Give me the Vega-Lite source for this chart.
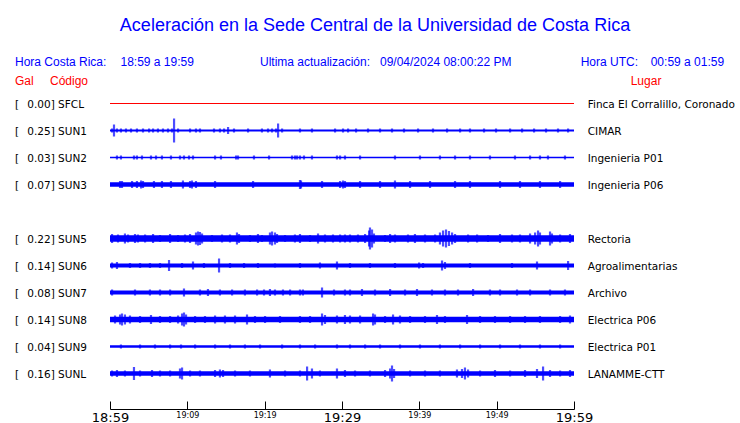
{
  "$schema": "https://vega.github.io/schema/vega-lite/v6.json",
  "width": 464,
  "height": 297,
  "autosize": "none",
  "padding": {"left": 110, "top": 90, "right": 166, "bottom": 36},
  "background": "white",
  "config": {"view": {"stroke": null}},
  "title": {
    "text": "Aceleración en la Sede Central de la Universidad de Costa Rica",
    "font": "Liberation Sans", "fontSize": 18, "fontWeight": "normal", "color": "#0000ff",
    "anchor": "middle", "frame": "group", "dx": 33, "offset": 21
  },
  "layer": [
    {
      "data": {
        "values": [
          {"st": "SFCL", "desde": "18:59:00", "hasta": "19:59:00", "grosor": 1},
          {"st": "SUN1", "desde": "18:59:00", "hasta": "19:59:00", "grosor": 2},
          {"st": "SUN2", "desde": "18:59:00", "hasta": "19:59:00", "grosor": 1.5},
          {"st": "SUN3", "desde": "18:59:00", "hasta": "19:59:00", "grosor": 4.5},
          {"st": "SUN5", "desde": "18:59:00", "hasta": "19:59:00", "grosor": 6.5},
          {"st": "SUN6", "desde": "18:59:00", "hasta": "19:59:00", "grosor": 4},
          {"st": "SUN7", "desde": "18:59:00", "hasta": "19:59:00", "grosor": 4},
          {"st": "SUN8", "desde": "18:59:00", "hasta": "19:59:00", "grosor": 5.5},
          {"st": "SUN9", "desde": "18:59:00", "hasta": "19:59:00", "grosor": 2.5},
          {"st": "SUNL", "desde": "18:59:00", "hasta": "19:59:00", "grosor": 4.5}
        ],
        "format": {"parse": {"desde": "date:'%H:%M:%S'", "hasta": "date:'%H:%M:%S'"}}
      },
      "mark": {"type": "bar", "cornerRadius": 0},
      "encoding": {
        "x": {
          "field": "desde", "type": "temporal",
          "scale": {"domain": [{"year": 1900, "month": 1, "date": 1, "hours": 18, "minutes": 59}, {"year": 1900, "month": 1, "date": 1, "hours": 19, "minutes": 59}]},
          "axis": {
            "title": null, "grid": false, "offset": 22,
            "domainColor": "black", "domainWidth": 1, "tickColor": "black", "tickWidth": 1, "tickSize": -8,
            "labelColor": "black", "labelFont": "DejaVu Sans", "labelPadding": 10, "labelBaseline": "top",
            "labelOverlap": false, "labelFlush": false, "labelBound": false,
            "labelFontSize": {"condition": {"test": "minutes(datum.value) % 30 == 29", "value": 13}, "value": 8},
            "labelExpr": "minutes(datum.value) % 10 == 9 ? timeFormat(datum.value, '%H:%M') : ''",
            "values": [
              {"year": 1900, "month": 1, "date": 1, "hours": 18, "minutes": 59},
              {"year": 1900, "month": 1, "date": 1, "hours": 19, "minutes": 4},
              {"year": 1900, "month": 1, "date": 1, "hours": 19, "minutes": 9},
              {"year": 1900, "month": 1, "date": 1, "hours": 19, "minutes": 14},
              {"year": 1900, "month": 1, "date": 1, "hours": 19, "minutes": 19},
              {"year": 1900, "month": 1, "date": 1, "hours": 19, "minutes": 24},
              {"year": 1900, "month": 1, "date": 1, "hours": 19, "minutes": 29},
              {"year": 1900, "month": 1, "date": 1, "hours": 19, "minutes": 34},
              {"year": 1900, "month": 1, "date": 1, "hours": 19, "minutes": 39},
              {"year": 1900, "month": 1, "date": 1, "hours": 19, "minutes": 44},
              {"year": 1900, "month": 1, "date": 1, "hours": 19, "minutes": 49},
              {"year": 1900, "month": 1, "date": 1, "hours": 19, "minutes": 54},
              {"year": 1900, "month": 1, "date": 1, "hours": 19, "minutes": 59}
            ]
          }
        },
        "x2": {"field": "hasta"},
        "y": {"field": "st", "type": "nominal", "scale": {"type": "point", "padding": 0.5, "domain": ["SFCL", "SUN1", "SUN2", "SUN3", "SUN4", "SUN5", "SUN6", "SUN7", "SUN8", "SUN9", "SUNL"]}, "axis": null},
        "size": {"field": "grosor", "type": "quantitative", "scale": {"type": "linear", "domain": [0, 24], "range": [0, 24]}, "legend": null},
        "color": {"condition": {"test": "datum.st === 'SFCL'", "value": "#ff0000"}, "value": "#0000ff"}
      }
    },
    {
      "data": {
        "values": [
          {"st": "SUN1", "t": "18:59:16", "amp": 4}, {"st": "SUN1", "t": "18:59:31", "amp": 12}, {"st": "SUN1", "t": "18:59:54", "amp": 4},
          {"st": "SUN1", "t": "19:00:25", "amp": 4}, {"st": "SUN1", "t": "19:01:04", "amp": 4}, {"st": "SUN1", "t": "19:01:43", "amp": 4},
          {"st": "SUN1", "t": "19:02:29", "amp": 4}, {"st": "SUN1", "t": "19:03:16", "amp": 4}, {"st": "SUN1", "t": "19:04:03", "amp": 4},
          {"st": "SUN1", "t": "19:04:34", "amp": 4}, {"st": "SUN1", "t": "19:05:12", "amp": 4}, {"st": "SUN1", "t": "19:05:51", "amp": 4},
          {"st": "SUN1", "t": "19:06:30", "amp": 4}, {"st": "SUN1", "t": "19:07:01", "amp": 4}, {"st": "SUN1", "t": "19:07:17", "amp": 24},
          {"st": "SUN1", "t": "19:07:48", "amp": 4}, {"st": "SUN1", "t": "19:09:21", "amp": 4}, {"st": "SUN1", "t": "19:10:07", "amp": 4},
          {"st": "SUN1", "t": "19:10:38", "amp": 4}, {"st": "SUN1", "t": "19:12:27", "amp": 4}, {"st": "SUN1", "t": "19:13:13", "amp": 4},
          {"st": "SUN1", "t": "19:13:45", "amp": 4}, {"st": "SUN1", "t": "19:14:16", "amp": 7}, {"st": "SUN1", "t": "19:15:02", "amp": 4},
          {"st": "SUN1", "t": "19:16:51", "amp": 4}, {"st": "SUN1", "t": "19:18:39", "amp": 4}, {"st": "SUN1", "t": "19:19:26", "amp": 4},
          {"st": "SUN1", "t": "19:19:57", "amp": 4}, {"st": "SUN1", "t": "19:20:28", "amp": 4}, {"st": "SUN1", "t": "19:20:44", "amp": 14},
          {"st": "SUN1", "t": "19:21:15", "amp": 4}, {"st": "SUN1", "t": "19:23:34", "amp": 4}, {"st": "SUN1", "t": "19:25:07", "amp": 4},
          {"st": "SUN1", "t": "19:28:06", "amp": 4}, {"st": "SUN1", "t": "19:29:08", "amp": 4}, {"st": "SUN1", "t": "19:29:47", "amp": 4},
          {"st": "SUN1", "t": "19:30:49", "amp": 4}, {"st": "SUN1", "t": "19:32:22", "amp": 4}, {"st": "SUN1", "t": "19:33:55", "amp": 4},
          {"st": "SUN1", "t": "19:35:28", "amp": 4}, {"st": "SUN1", "t": "19:37:01", "amp": 4}, {"st": "SUN1", "t": "19:38:50", "amp": 4},
          {"st": "SUN1", "t": "19:40:46", "amp": 4}, {"st": "SUN1", "t": "19:42:35", "amp": 4}, {"st": "SUN1", "t": "19:44:16", "amp": 4},
          {"st": "SUN1", "t": "19:45:33", "amp": 4}, {"st": "SUN1", "t": "19:47:22", "amp": 4}, {"st": "SUN1", "t": "19:48:55", "amp": 4},
          {"st": "SUN1", "t": "19:50:44", "amp": 4}, {"st": "SUN1", "t": "19:52:17", "amp": 4}, {"st": "SUN1", "t": "19:53:50", "amp": 4},
          {"st": "SUN1", "t": "19:55:23", "amp": 4}, {"st": "SUN1", "t": "19:56:56", "amp": 4}, {"st": "SUN1", "t": "19:58:14", "amp": 4},

          {"st": "SUN2", "t": "18:59:54", "amp": 4}, {"st": "SUN2", "t": "19:00:25", "amp": 4}, {"st": "SUN2", "t": "19:02:06", "amp": 4},
          {"st": "SUN2", "t": "19:02:29", "amp": 4}, {"st": "SUN2", "t": "19:03:08", "amp": 4}, {"st": "SUN2", "t": "19:04:18", "amp": 4},
          {"st": "SUN2", "t": "19:04:57", "amp": 4}, {"st": "SUN2", "t": "19:05:43", "amp": 4}, {"st": "SUN2", "t": "19:06:53", "amp": 4},
          {"st": "SUN2", "t": "19:08:03", "amp": 4}, {"st": "SUN2", "t": "19:08:34", "amp": 4}, {"st": "SUN2", "t": "19:09:13", "amp": 4},
          {"st": "SUN2", "t": "19:09:44", "amp": 4}, {"st": "SUN2", "t": "19:12:35", "amp": 4}, {"st": "SUN2", "t": "19:13:21", "amp": 4},
          {"st": "SUN2", "t": "19:15:18", "amp": 4}, {"st": "SUN2", "t": "19:15:33", "amp": 4}, {"st": "SUN2", "t": "19:17:37", "amp": 4},
          {"st": "SUN2", "t": "19:19:34", "amp": 4}, {"st": "SUN2", "t": "19:22:32", "amp": 4}, {"st": "SUN2", "t": "19:22:55", "amp": 4},
          {"st": "SUN2", "t": "19:23:11", "amp": 4}, {"st": "SUN2", "t": "19:23:34", "amp": 4}, {"st": "SUN2", "t": "19:24:05", "amp": 4},
          {"st": "SUN2", "t": "19:25:07", "amp": 4}, {"st": "SUN2", "t": "19:28:21", "amp": 4}, {"st": "SUN2", "t": "19:28:45", "amp": 4},
          {"st": "SUN2", "t": "19:29:23", "amp": 4}, {"st": "SUN2", "t": "19:31:20", "amp": 4}, {"st": "SUN2", "t": "19:35:51", "amp": 4},
          {"st": "SUN2", "t": "19:39:05", "amp": 4}, {"st": "SUN2", "t": "19:41:40", "amp": 4}, {"st": "SUN2", "t": "19:43:37", "amp": 4},
          {"st": "SUN2", "t": "19:45:33", "amp": 4}, {"st": "SUN2", "t": "19:48:08", "amp": 4}, {"st": "SUN2", "t": "19:51:22", "amp": 4},
          {"st": "SUN2", "t": "19:53:19", "amp": 4}, {"st": "SUN2", "t": "19:54:36", "amp": 4}, {"st": "SUN2", "t": "19:55:38", "amp": 4},
          {"st": "SUN2", "t": "19:57:50", "amp": 4},

          {"st": "SUN3", "t": "19:00:18", "amp": 7}, {"st": "SUN3", "t": "19:00:33", "amp": 7}, {"st": "SUN3", "t": "19:01:51", "amp": 7},
          {"st": "SUN3", "t": "19:02:29", "amp": 7}, {"st": "SUN3", "t": "19:03:01", "amp": 8}, {"st": "SUN3", "t": "19:03:16", "amp": 7},
          {"st": "SUN3", "t": "19:04:41", "amp": 7}, {"st": "SUN3", "t": "19:05:43", "amp": 7}, {"st": "SUN3", "t": "19:06:53", "amp": 7},
          {"st": "SUN3", "t": "19:08:26", "amp": 8}, {"st": "SUN3", "t": "19:09:21", "amp": 7}, {"st": "SUN3", "t": "19:09:36", "amp": 8},
          {"st": "SUN3", "t": "19:10:07", "amp": 7}, {"st": "SUN3", "t": "19:12:35", "amp": 7}, {"st": "SUN3", "t": "19:17:30", "amp": 7},
          {"st": "SUN3", "t": "19:23:34", "amp": 9}, {"st": "SUN3", "t": "19:23:42", "amp": 8}, {"st": "SUN3", "t": "19:26:25", "amp": 7},
          {"st": "SUN3", "t": "19:28:45", "amp": 7}, {"st": "SUN3", "t": "19:29:08", "amp": 8}, {"st": "SUN3", "t": "19:29:23", "amp": 7},
          {"st": "SUN3", "t": "19:31:20", "amp": 7}, {"st": "SUN3", "t": "19:33:55", "amp": 7}, {"st": "SUN3", "t": "19:35:51", "amp": 8},
          {"st": "SUN3", "t": "19:37:48", "amp": 7}, {"st": "SUN3", "t": "19:40:23", "amp": 7}, {"st": "SUN3", "t": "19:43:37", "amp": 7},
          {"st": "SUN3", "t": "19:45:33", "amp": 7}, {"st": "SUN3", "t": "19:49:26", "amp": 7}, {"st": "SUN3", "t": "19:52:01", "amp": 7},
          {"st": "SUN3", "t": "19:54:36", "amp": 7}, {"st": "SUN3", "t": "19:57:12", "amp": 7},

          {"st": "SUN5", "t": "18:59:16", "amp": 9}, {"st": "SUN5", "t": "19:00:02", "amp": 8}, {"st": "SUN5", "t": "19:00:56", "amp": 10},
          {"st": "SUN5", "t": "19:01:20", "amp": 8}, {"st": "SUN5", "t": "19:02:14", "amp": 9}, {"st": "SUN5", "t": "19:02:37", "amp": 8},
          {"st": "SUN5", "t": "19:03:32", "amp": 8}, {"st": "SUN5", "t": "19:04:34", "amp": 9}, {"st": "SUN5", "t": "19:05:28", "amp": 7},
          {"st": "SUN5", "t": "19:06:46", "amp": 9}, {"st": "SUN5", "t": "19:07:48", "amp": 7}, {"st": "SUN5", "t": "19:08:42", "amp": 8},
          {"st": "SUN5", "t": "19:09:21", "amp": 9}, {"st": "SUN5", "t": "19:10:07", "amp": 12}, {"st": "SUN5", "t": "19:10:23", "amp": 14},
          {"st": "SUN5", "t": "19:10:38", "amp": 13}, {"st": "SUN5", "t": "19:10:54", "amp": 10}, {"st": "SUN5", "t": "19:12:11", "amp": 7},
          {"st": "SUN5", "t": "19:13:29", "amp": 8}, {"st": "SUN5", "t": "19:14:31", "amp": 8}, {"st": "SUN5", "t": "19:15:25", "amp": 12},
          {"st": "SUN5", "t": "19:15:41", "amp": 9}, {"st": "SUN5", "t": "19:17:06", "amp": 7}, {"st": "SUN5", "t": "19:18:08", "amp": 9},
          {"st": "SUN5", "t": "19:18:39", "amp": 7}, {"st": "SUN5", "t": "19:19:41", "amp": 12}, {"st": "SUN5", "t": "19:19:57", "amp": 14},
          {"st": "SUN5", "t": "19:20:20", "amp": 12}, {"st": "SUN5", "t": "19:20:36", "amp": 9}, {"st": "SUN5", "t": "19:21:38", "amp": 7},
          {"st": "SUN5", "t": "19:22:55", "amp": 8}, {"st": "SUN5", "t": "19:23:34", "amp": 9}, {"st": "SUN5", "t": "19:24:52", "amp": 7},
          {"st": "SUN5", "t": "19:25:54", "amp": 10}, {"st": "SUN5", "t": "19:26:48", "amp": 8}, {"st": "SUN5", "t": "19:27:50", "amp": 8},
          {"st": "SUN5", "t": "19:28:45", "amp": 8}, {"st": "SUN5", "t": "19:29:23", "amp": 8}, {"st": "SUN5", "t": "19:30:02", "amp": 8},
          {"st": "SUN5", "t": "19:31:04", "amp": 8}, {"st": "SUN5", "t": "19:31:59", "amp": 9}, {"st": "SUN5", "t": "19:32:30", "amp": 16},
          {"st": "SUN5", "t": "19:32:37", "amp": 22}, {"st": "SUN5", "t": "19:32:53", "amp": 18}, {"st": "SUN5", "t": "19:33:08", "amp": 10},
          {"st": "SUN5", "t": "19:34:34", "amp": 7}, {"st": "SUN5", "t": "19:35:13", "amp": 9}, {"st": "SUN5", "t": "19:35:51", "amp": 8},
          {"st": "SUN5", "t": "19:37:32", "amp": 8}, {"st": "SUN5", "t": "19:38:26", "amp": 9}, {"st": "SUN5", "t": "19:39:44", "amp": 8},
          {"st": "SUN5", "t": "19:41:02", "amp": 8}, {"st": "SUN5", "t": "19:41:40", "amp": 12}, {"st": "SUN5", "t": "19:42:04", "amp": 16},
          {"st": "SUN5", "t": "19:42:27", "amp": 18}, {"st": "SUN5", "t": "19:42:50", "amp": 15}, {"st": "SUN5", "t": "19:43:14", "amp": 12},
          {"st": "SUN5", "t": "19:43:37", "amp": 9}, {"st": "SUN5", "t": "19:45:18", "amp": 8}, {"st": "SUN5", "t": "19:46:28", "amp": 8},
          {"st": "SUN5", "t": "19:47:53", "amp": 7}, {"st": "SUN5", "t": "19:49:26", "amp": 9}, {"st": "SUN5", "t": "19:50:59", "amp": 8},
          {"st": "SUN5", "t": "19:52:01", "amp": 8}, {"st": "SUN5", "t": "19:53:19", "amp": 10}, {"st": "SUN5", "t": "19:53:58", "amp": 12},
          {"st": "SUN5", "t": "19:54:21", "amp": 16}, {"st": "SUN5", "t": "19:54:36", "amp": 12}, {"st": "SUN5", "t": "19:55:54", "amp": 14},
          {"st": "SUN5", "t": "19:56:09", "amp": 10}, {"st": "SUN5", "t": "19:57:12", "amp": 8}, {"st": "SUN5", "t": "19:58:29", "amp": 9},

          {"st": "SUN6", "t": "18:59:16", "amp": 6}, {"st": "SUN6", "t": "18:59:54", "amp": 7}, {"st": "SUN6", "t": "19:01:35", "amp": 5},
          {"st": "SUN6", "t": "19:02:53", "amp": 5}, {"st": "SUN6", "t": "19:04:10", "amp": 5}, {"st": "SUN6", "t": "19:05:28", "amp": 5},
          {"st": "SUN6", "t": "19:06:38", "amp": 11}, {"st": "SUN6", "t": "19:08:19", "amp": 5}, {"st": "SUN6", "t": "19:09:44", "amp": 8},
          {"st": "SUN6", "t": "19:11:09", "amp": 5}, {"st": "SUN6", "t": "19:13:06", "amp": 14}, {"st": "SUN6", "t": "19:14:31", "amp": 5},
          {"st": "SUN6", "t": "19:16:20", "amp": 5}, {"st": "SUN6", "t": "19:18:08", "amp": 5}, {"st": "SUN6", "t": "19:20:20", "amp": 4},
          {"st": "SUN6", "t": "19:23:34", "amp": 5}, {"st": "SUN6", "t": "19:26:09", "amp": 6}, {"st": "SUN6", "t": "19:28:21", "amp": 8},
          {"st": "SUN6", "t": "19:30:02", "amp": 5}, {"st": "SUN6", "t": "19:32:37", "amp": 5}, {"st": "SUN6", "t": "19:35:51", "amp": 5},
          {"st": "SUN6", "t": "19:38:58", "amp": 6}, {"st": "SUN6", "t": "19:39:29", "amp": 5}, {"st": "SUN6", "t": "19:41:56", "amp": 10},
          {"st": "SUN6", "t": "19:42:19", "amp": 7}, {"st": "SUN6", "t": "19:45:33", "amp": 5}, {"st": "SUN6", "t": "19:50:59", "amp": 5},
          {"st": "SUN6", "t": "19:54:13", "amp": 8}, {"st": "SUN6", "t": "19:58:14", "amp": 9},

          {"st": "SUN7", "t": "18:59:16", "amp": 6}, {"st": "SUN7", "t": "19:02:14", "amp": 6}, {"st": "SUN7", "t": "19:04:10", "amp": 6},
          {"st": "SUN7", "t": "19:05:28", "amp": 6}, {"st": "SUN7", "t": "19:06:46", "amp": 6}, {"st": "SUN7", "t": "19:08:34", "amp": 8},
          {"st": "SUN7", "t": "19:10:38", "amp": 6}, {"st": "SUN7", "t": "19:11:40", "amp": 7}, {"st": "SUN7", "t": "19:13:13", "amp": 6},
          {"st": "SUN7", "t": "19:14:47", "amp": 6}, {"st": "SUN7", "t": "19:16:27", "amp": 6}, {"st": "SUN7", "t": "19:18:01", "amp": 6},
          {"st": "SUN7", "t": "19:18:55", "amp": 6}, {"st": "SUN7", "t": "19:19:41", "amp": 7}, {"st": "SUN7", "t": "19:20:20", "amp": 6},
          {"st": "SUN7", "t": "19:21:22", "amp": 6}, {"st": "SUN7", "t": "19:22:17", "amp": 6}, {"st": "SUN7", "t": "19:23:34", "amp": 6},
          {"st": "SUN7", "t": "19:23:57", "amp": 6}, {"st": "SUN7", "t": "19:26:25", "amp": 10}, {"st": "SUN7", "t": "19:27:58", "amp": 6},
          {"st": "SUN7", "t": "19:29:23", "amp": 6}, {"st": "SUN7", "t": "19:30:02", "amp": 6}, {"st": "SUN7", "t": "19:31:35", "amp": 7},
          {"st": "SUN7", "t": "19:33:16", "amp": 6}, {"st": "SUN7", "t": "19:35:13", "amp": 7}, {"st": "SUN7", "t": "19:37:09", "amp": 6},
          {"st": "SUN7", "t": "19:38:42", "amp": 7}, {"st": "SUN7", "t": "19:40:38", "amp": 6}, {"st": "SUN7", "t": "19:42:19", "amp": 6},
          {"st": "SUN7", "t": "19:44:00", "amp": 6}, {"st": "SUN7", "t": "19:45:57", "amp": 7}, {"st": "SUN7", "t": "19:48:08", "amp": 6},
          {"st": "SUN7", "t": "19:49:26", "amp": 6}, {"st": "SUN7", "t": "19:51:38", "amp": 6}, {"st": "SUN7", "t": "19:53:19", "amp": 6},
          {"st": "SUN7", "t": "19:55:54", "amp": 6}, {"st": "SUN7", "t": "19:57:50", "amp": 6},

          {"st": "SUN8", "t": "18:59:39", "amp": 8}, {"st": "SUN8", "t": "19:00:18", "amp": 10}, {"st": "SUN8", "t": "19:00:33", "amp": 12},
          {"st": "SUN8", "t": "19:00:56", "amp": 10}, {"st": "SUN8", "t": "19:01:35", "amp": 8}, {"st": "SUN8", "t": "19:02:53", "amp": 7},
          {"st": "SUN8", "t": "19:04:18", "amp": 9}, {"st": "SUN8", "t": "19:05:28", "amp": 7}, {"st": "SUN8", "t": "19:06:46", "amp": 7},
          {"st": "SUN8", "t": "19:07:48", "amp": 8}, {"st": "SUN8", "t": "19:08:19", "amp": 12}, {"st": "SUN8", "t": "19:08:34", "amp": 14},
          {"st": "SUN8", "t": "19:08:50", "amp": 10}, {"st": "SUN8", "t": "19:10:00", "amp": 7}, {"st": "SUN8", "t": "19:11:17", "amp": 7},
          {"st": "SUN8", "t": "19:12:35", "amp": 8}, {"st": "SUN8", "t": "19:13:52", "amp": 8}, {"st": "SUN8", "t": "19:15:10", "amp": 8},
          {"st": "SUN8", "t": "19:16:43", "amp": 10}, {"st": "SUN8", "t": "19:17:45", "amp": 7}, {"st": "SUN8", "t": "19:19:03", "amp": 7},
          {"st": "SUN8", "t": "19:20:59", "amp": 7}, {"st": "SUN8", "t": "19:23:34", "amp": 7}, {"st": "SUN8", "t": "19:24:52", "amp": 7},
          {"st": "SUN8", "t": "19:26:25", "amp": 12}, {"st": "SUN8", "t": "19:26:48", "amp": 9}, {"st": "SUN8", "t": "19:28:21", "amp": 8},
          {"st": "SUN8", "t": "19:29:23", "amp": 9}, {"st": "SUN8", "t": "19:30:02", "amp": 8}, {"st": "SUN8", "t": "19:31:20", "amp": 8},
          {"st": "SUN8", "t": "19:33:01", "amp": 12}, {"st": "SUN8", "t": "19:33:16", "amp": 10}, {"st": "SUN8", "t": "19:34:34", "amp": 7},
          {"st": "SUN8", "t": "19:35:36", "amp": 10}, {"st": "SUN8", "t": "19:36:30", "amp": 8}, {"st": "SUN8", "t": "19:37:48", "amp": 7},
          {"st": "SUN8", "t": "19:39:44", "amp": 7}, {"st": "SUN8", "t": "19:41:17", "amp": 9}, {"st": "SUN8", "t": "19:42:19", "amp": 7},
          {"st": "SUN8", "t": "19:45:10", "amp": 9}, {"st": "SUN8", "t": "19:46:51", "amp": 7}, {"st": "SUN8", "t": "19:48:47", "amp": 7},
          {"st": "SUN8", "t": "19:50:44", "amp": 7}, {"st": "SUN8", "t": "19:52:40", "amp": 7}, {"st": "SUN8", "t": "19:54:36", "amp": 7},
          {"st": "SUN8", "t": "19:57:12", "amp": 7}, {"st": "SUN8", "t": "19:58:29", "amp": 8},

          {"st": "SUN9", "t": "19:00:25", "amp": 4}, {"st": "SUN9", "t": "19:02:53", "amp": 4}, {"st": "SUN9", "t": "19:04:49", "amp": 4},
          {"st": "SUN9", "t": "19:06:46", "amp": 4}, {"st": "SUN9", "t": "19:08:11", "amp": 4}, {"st": "SUN9", "t": "19:10:00", "amp": 4},
          {"st": "SUN9", "t": "19:12:35", "amp": 4}, {"st": "SUN9", "t": "19:14:31", "amp": 4}, {"st": "SUN9", "t": "19:16:27", "amp": 4},
          {"st": "SUN9", "t": "19:18:24", "amp": 4}, {"st": "SUN9", "t": "19:21:15", "amp": 4}, {"st": "SUN9", "t": "19:23:34", "amp": 4},
          {"st": "SUN9", "t": "19:25:31", "amp": 4}, {"st": "SUN9", "t": "19:28:21", "amp": 4}, {"st": "SUN9", "t": "19:30:02", "amp": 4},
          {"st": "SUN9", "t": "19:31:59", "amp": 4}, {"st": "SUN9", "t": "19:33:55", "amp": 4}, {"st": "SUN9", "t": "19:36:30", "amp": 4},
          {"st": "SUN9", "t": "19:39:05", "amp": 4}, {"st": "SUN9", "t": "19:41:40", "amp": 4}, {"st": "SUN9", "t": "19:44:16", "amp": 4},
          {"st": "SUN9", "t": "19:46:51", "amp": 4}, {"st": "SUN9", "t": "19:49:26", "amp": 4}, {"st": "SUN9", "t": "19:52:01", "amp": 4},
          {"st": "SUN9", "t": "19:54:36", "amp": 4}, {"st": "SUN9", "t": "19:57:12", "amp": 4},

          {"st": "SUNL", "t": "18:59:16", "amp": 6}, {"st": "SUNL", "t": "18:59:54", "amp": 7}, {"st": "SUNL", "t": "19:00:56", "amp": 6},
          {"st": "SUNL", "t": "19:02:06", "amp": 13}, {"st": "SUNL", "t": "19:02:53", "amp": 6}, {"st": "SUNL", "t": "19:04:26", "amp": 7},
          {"st": "SUNL", "t": "19:05:28", "amp": 6}, {"st": "SUNL", "t": "19:06:46", "amp": 6}, {"st": "SUNL", "t": "19:08:03", "amp": 10},
          {"st": "SUNL", "t": "19:08:19", "amp": 12}, {"st": "SUNL", "t": "19:09:21", "amp": 6}, {"st": "SUNL", "t": "19:10:38", "amp": 6},
          {"st": "SUNL", "t": "19:12:35", "amp": 7}, {"st": "SUNL", "t": "19:13:13", "amp": 8}, {"st": "SUNL", "t": "19:13:37", "amp": 7},
          {"st": "SUNL", "t": "19:15:10", "amp": 6}, {"st": "SUNL", "t": "19:17:06", "amp": 6}, {"st": "SUNL", "t": "19:19:41", "amp": 8},
          {"st": "SUNL", "t": "19:21:38", "amp": 6}, {"st": "SUNL", "t": "19:23:34", "amp": 6}, {"st": "SUNL", "t": "19:24:29", "amp": 14},
          {"st": "SUNL", "t": "19:25:07", "amp": 10}, {"st": "SUNL", "t": "19:26:09", "amp": 6}, {"st": "SUNL", "t": "19:28:21", "amp": 10},
          {"st": "SUNL", "t": "19:29:23", "amp": 7}, {"st": "SUNL", "t": "19:30:41", "amp": 6}, {"st": "SUNL", "t": "19:32:37", "amp": 6},
          {"st": "SUNL", "t": "19:34:34", "amp": 7}, {"st": "SUNL", "t": "19:35:13", "amp": 10}, {"st": "SUNL", "t": "19:35:28", "amp": 16},
          {"st": "SUNL", "t": "19:35:44", "amp": 9}, {"st": "SUNL", "t": "19:37:48", "amp": 6}, {"st": "SUNL", "t": "19:39:44", "amp": 6},
          {"st": "SUNL", "t": "19:41:40", "amp": 6}, {"st": "SUNL", "t": "19:43:52", "amp": 8}, {"st": "SUNL", "t": "19:44:31", "amp": 9},
          {"st": "SUNL", "t": "19:44:54", "amp": 12}, {"st": "SUNL", "t": "19:45:18", "amp": 8}, {"st": "SUNL", "t": "19:46:51", "amp": 6},
          {"st": "SUNL", "t": "19:48:47", "amp": 7}, {"st": "SUNL", "t": "19:50:44", "amp": 6}, {"st": "SUNL", "t": "19:52:40", "amp": 7},
          {"st": "SUNL", "t": "19:54:13", "amp": 9}, {"st": "SUNL", "t": "19:55:00", "amp": 14}, {"st": "SUNL", "t": "19:55:54", "amp": 7},
          {"st": "SUNL", "t": "19:57:12", "amp": 6}, {"st": "SUNL", "t": "19:58:29", "amp": 7}
        ],
        "format": {"parse": {"t": "date:'%H:%M:%S'"}}
      },
      "mark": {"type": "tick", "orient": "vertical", "thickness": 2.2, "color": "#0000ff"},
      "encoding": {
        "x": {"field": "t", "type": "temporal"},
        "y": {"field": "st", "type": "nominal"},
        "size": {"field": "amp", "type": "quantitative", "legend": null}
      }
    },
    {
      "data": {
        "values": [
          {"st": "SFCL", "gal": 0.00, "lugar": "Finca El Corralillo, Coronado"},
          {"st": "SUN1", "gal": 0.25, "lugar": "CIMAR"},
          {"st": "SUN2", "gal": 0.03, "lugar": "Ingenieria P01"},
          {"st": "SUN3", "gal": 0.07, "lugar": "Ingenieria P06"},
          {"st": "SUN5", "gal": 0.22, "lugar": "Rectoria"},
          {"st": "SUN6", "gal": 0.14, "lugar": "Agroalimentarias"},
          {"st": "SUN7", "gal": 0.08, "lugar": "Archivo"},
          {"st": "SUN8", "gal": 0.14, "lugar": "Electrica P06"},
          {"st": "SUN9", "gal": 0.04, "lugar": "Electrica P01"},
          {"st": "SUNL", "gal": 0.16, "lugar": "LANAMME-CTT"}
        ]
      },
      "transform": [{"calculate": "format(datum.gal, '.2f') + '] ' + datum.st", "as": "etiqueta"}],
      "layer": [
        {
          "mark": {"type": "text", "align": "left", "baseline": "alphabetic", "dx": -95, "dy": 4, "font": "DejaVu Sans", "fontSize": 10.5, "color": "black"},
          "encoding": {"x": {"datum": {"year": 1900, "month": 1, "date": 1, "hours": 18, "minutes": 59}, "type": "temporal"}, "y": {"field": "st", "type": "nominal"}, "text": {"value": "["}}
        },
        {
          "mark": {"type": "text", "align": "left", "baseline": "alphabetic", "dx": -82.7, "dy": 4, "font": "DejaVu Sans", "fontSize": 10.5, "color": "black"},
          "encoding": {"x": {"datum": {"year": 1900, "month": 1, "date": 1, "hours": 18, "minutes": 59}, "type": "temporal"}, "y": {"field": "st", "type": "nominal"}, "text": {"field": "etiqueta"}}
        },
        {
          "mark": {"type": "text", "align": "left", "baseline": "alphabetic", "dx": 13.7, "dy": 4, "font": "DejaVu Sans", "fontSize": 10.5, "color": "black"},
          "encoding": {"x": {"datum": {"year": 1900, "month": 1, "date": 1, "hours": 19, "minutes": 59}, "type": "temporal"}, "y": {"field": "st", "type": "nominal"}, "text": {"field": "lugar"}}
        }
      ]
    },
    {
      "data": {"values": [{}]},
      "layer": [
        {"mark": {"type": "text", "align": "left", "baseline": "alphabetic", "dx": -95, "dy": -37.5, "font": "Liberation Sans", "fontSize": 12, "color": "#0000ff"},
         "encoding": {"x": {"datum": {"year": 1900, "month": 1, "date": 1, "hours": 18, "minutes": 59}, "type": "temporal"}, "y": {"datum": "SFCL", "type": "nominal"}, "text": {"value": "Hora Costa Rica:"}}},
        {"mark": {"type": "text", "align": "left", "baseline": "alphabetic", "dx": 10.5, "dy": -37.5, "font": "Liberation Sans", "fontSize": 12, "color": "#0000ff"},
         "encoding": {"x": {"datum": {"year": 1900, "month": 1, "date": 1, "hours": 18, "minutes": 59}, "type": "temporal"}, "y": {"datum": "SFCL", "type": "nominal"}, "text": {"value": "18:59 a 19:59"}}},
        {"mark": {"type": "text", "align": "left", "baseline": "alphabetic", "dx": 150, "dy": -37.5, "font": "Liberation Sans", "fontSize": 12, "color": "#0000ff"},
         "encoding": {"x": {"datum": {"year": 1900, "month": 1, "date": 1, "hours": 18, "minutes": 59}, "type": "temporal"}, "y": {"datum": "SFCL", "type": "nominal"}, "text": {"value": "Ultima actualización:"}}},
        {"mark": {"type": "text", "align": "left", "baseline": "alphabetic", "dx": 270, "dy": -37.5, "font": "Liberation Sans", "fontSize": 12, "color": "#0000ff"},
         "encoding": {"x": {"datum": {"year": 1900, "month": 1, "date": 1, "hours": 18, "minutes": 59}, "type": "temporal"}, "y": {"datum": "SFCL", "type": "nominal"}, "text": {"value": "09/04/2024 08:00:22 PM"}}},
        {"mark": {"type": "text", "align": "left", "baseline": "alphabetic", "dx": 470.7, "dy": -37.5, "font": "Liberation Sans", "fontSize": 12, "color": "#0000ff"},
         "encoding": {"x": {"datum": {"year": 1900, "month": 1, "date": 1, "hours": 18, "minutes": 59}, "type": "temporal"}, "y": {"datum": "SFCL", "type": "nominal"}, "text": {"value": "Hora UTC:"}}},
        {"mark": {"type": "text", "align": "left", "baseline": "alphabetic", "dx": 540.7, "dy": -37.5, "font": "Liberation Sans", "fontSize": 12, "color": "#0000ff"},
         "encoding": {"x": {"datum": {"year": 1900, "month": 1, "date": 1, "hours": 18, "minutes": 59}, "type": "temporal"}, "y": {"datum": "SFCL", "type": "nominal"}, "text": {"value": "00:59 a 01:59"}}},
        {"mark": {"type": "text", "align": "left", "baseline": "alphabetic", "dx": -95, "dy": -19, "font": "Liberation Sans", "fontSize": 12, "color": "#ff0000"},
         "encoding": {"x": {"datum": {"year": 1900, "month": 1, "date": 1, "hours": 18, "minutes": 59}, "type": "temporal"}, "y": {"datum": "SFCL", "type": "nominal"}, "text": {"value": "Gal"}}},
        {"mark": {"type": "text", "align": "left", "baseline": "alphabetic", "dx": -60, "dy": -19, "font": "Liberation Sans", "fontSize": 12, "color": "#ff0000"},
         "encoding": {"x": {"datum": {"year": 1900, "month": 1, "date": 1, "hours": 18, "minutes": 59}, "type": "temporal"}, "y": {"datum": "SFCL", "type": "nominal"}, "text": {"value": "Código"}}},
        {"mark": {"type": "text", "align": "left", "baseline": "alphabetic", "dx": 520.7, "dy": -19, "font": "Liberation Sans", "fontSize": 12, "color": "#ff0000"},
         "encoding": {"x": {"datum": {"year": 1900, "month": 1, "date": 1, "hours": 18, "minutes": 59}, "type": "temporal"}, "y": {"datum": "SFCL", "type": "nominal"}, "text": {"value": "Lugar"}}}
      ]
    }
  ]
}
